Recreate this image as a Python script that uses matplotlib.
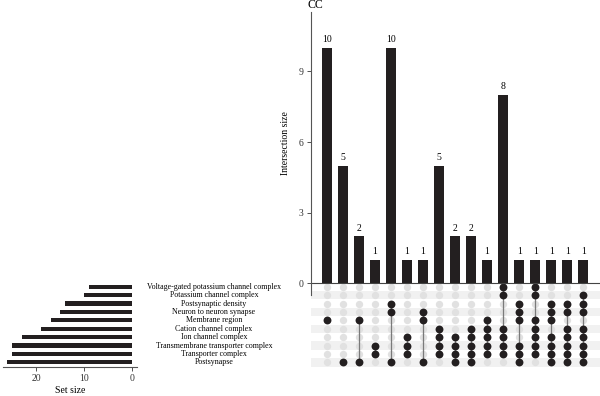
import matplotlib

matplotlib.use("Agg")
import matplotlib.pyplot as plt
from matplotlib.transforms import blended_transform_factory

plt.rcParams.update({"font.family": ["Liberation Serif", "DejaVu Serif"], "font.size": 7})

# sets, top row of the matrix first
set_names = [
    "Voltage-gated potassium channel complex",
    "Potassium channel complex",
    "Postsynaptic density",
    "Neuron to neuron synapse",
    "Membrane region",
    "Cation channel complex",
    "Ion channel complex",
    "Transmembrane transporter complex",
    "Transporter complex",
    "Postsynapse",
]
set_sizes = [9, 10, 14, 15, 17, 19, 23, 25, 25, 26]

# one entry per intersection (left to right), members are row indices
inter_sizes = [10, 5, 2, 1, 10, 1, 1, 5, 2, 2, 1, 8, 1, 1, 1, 1, 1]
inter_sets = [
    [4], [9], [4, 9], [7, 8], [2, 3, 9], [6, 7, 8], [3, 4, 9], [5, 6, 7, 8],
    [6, 7, 8, 9], [5, 6, 7, 8, 9], [4, 5, 6, 7, 8], [0, 1, 5, 6, 7, 8],
    [2, 3, 4, 7, 8, 9], [0, 1, 4, 5, 6, 7, 8], [2, 3, 4, 6, 7, 8, 9],
    [2, 3, 5, 6, 7, 8, 9], [1, 2, 3, 5, 6, 7, 8, 9],
]

DARK = "#231f20"
n_sets = len(set_names)
n_int = len(inter_sizes)
row_y = [n_sets - 1 - r for r in range(n_sets)]  # top row -> highest y

fig = plt.figure(figsize=(6, 3.96), dpi=100)
ax_bar = fig.add_axes([0.5178, 0.255, 0.4822, 0.7155])
ax_mat = fig.add_axes([0.5178, 0.0732, 0.4822, 0.2146], zorder=-1)
ax_set = fig.add_axes([0.005, 0.0732, 0.2233, 0.2146])

# intersection size bars
x = list(range(n_int))
ax_bar.bar(x, inter_sizes, width=0.62, color=DARK)
for xi, v in zip(x, inter_sizes):
    ax_bar.text(xi, v + 0.15, str(v), ha="center", va="bottom", fontsize=7)
ax_bar.axhline(0, color="#444444", lw=0.8)
ax_bar.set_xlim(-1, 17.04)
ax_bar.set_ylim(-0.5, 11.54)
ax_bar.set_xticks([])
ax_bar.set_yticks([0, 3, 6, 9])
ax_bar.tick_params(axis="y", length=3, width=0.6, pad=2, colors="#333333")
for s in ("top", "right", "bottom"):
    ax_bar.spines[s].set_visible(False)
ax_bar.spines["left"].set_color("#555555")
ax_bar.spines["left"].set_linewidth(0.8)
ax_bar.patch.set_visible(False)
ax_bar.set_ylabel("Intersection size", fontsize=7)
ax_bar.yaxis.set_label_coords(-0.072, 0.535)
fig.text(308 / 600, 1 - 5.5 / 396, "CC", ha="left", va="center", fontsize=8.5)

# membership matrix
for r in range(1, n_sets, 2):
    ax_mat.axhspan(row_y[r] - 0.5, row_y[r] + 0.5, color="#f1f1f1", lw=0)
for xi in x:
    ax_mat.scatter([xi] * n_sets, row_y, s=28, color="#e1e1e1", lw=0, zorder=2)
for xi, members in zip(x, inter_sets):
    ys = [row_y[m] for m in members]
    if len(ys) > 1:
        ax_mat.plot([xi, xi], [min(ys), max(ys)], color="#7a7a7a", lw=0.9, zorder=3)
    ax_mat.scatter([xi] * len(ys), ys, s=32, color=DARK, lw=0, zorder=4)
ax_mat.set_xlim(-1, 17.04)
ax_mat.set_ylim(-0.56, 9.56)
ax_mat.axis("off")

# set names, centred between the two panels
trans = blended_transform_factory(fig.transFigure, ax_mat.transData)
for name, y in zip(set_names, row_y):
    ax_mat.text(214 / 600, y, name, transform=trans, ha="center", va="center",
                fontsize=5.7, clip_on=False)

# set size bars
ax_set.barh(row_y, set_sizes, height=0.5, color=DARK)
ax_set.set_xlim(26.9, -1)
ax_set.set_ylim(-0.56, 9.56)
ax_set.set_yticks([])
ax_set.set_xticks([0, 10, 20])
ax_set.tick_params(axis="x", length=3, width=0.6, pad=2, colors="#333333")
for s in ("top", "right", "left"):
    ax_set.spines[s].set_visible(False)
ax_set.spines["bottom"].set_color("#555555")
ax_set.spines["bottom"].set_linewidth(0.8)
ax_set.set_xlabel("Set size", fontsize=7, labelpad=2)

fig.savefig("out.png", dpi=100)
